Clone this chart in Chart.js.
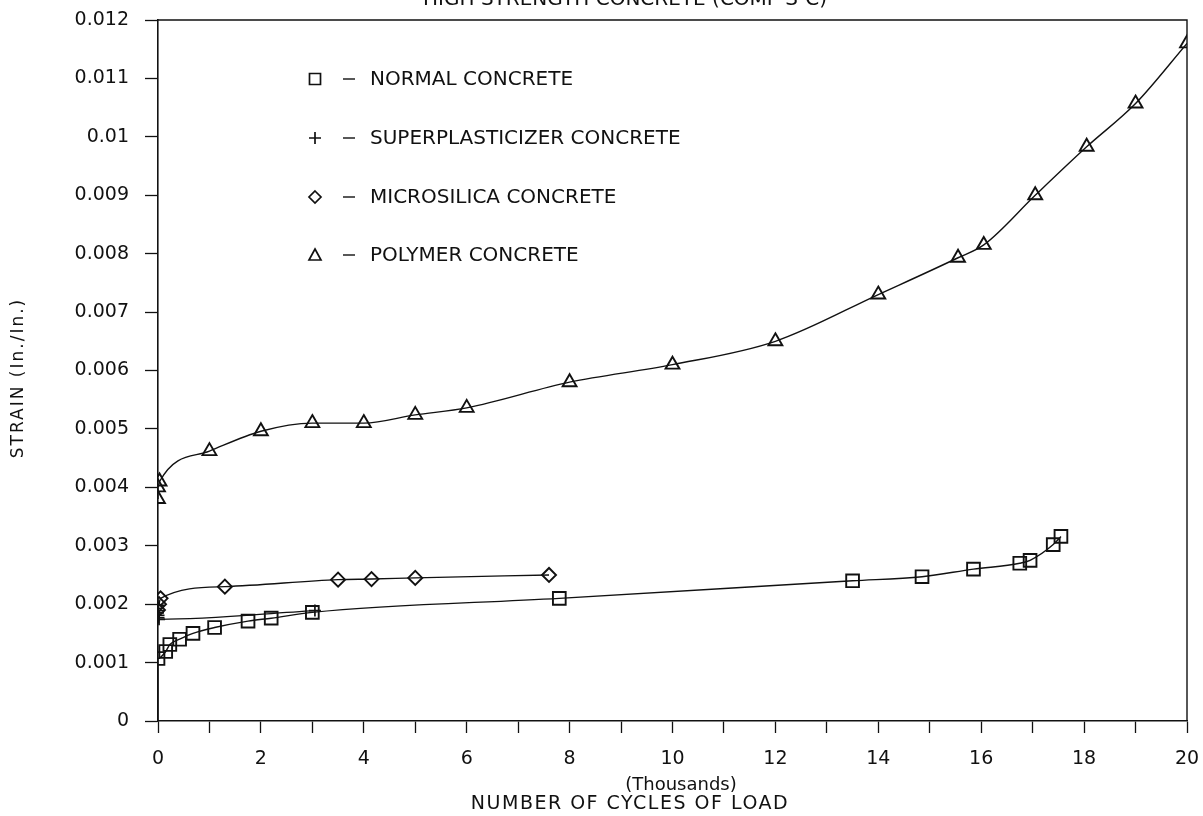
<!DOCTYPE html>
<html>
<head>
<meta charset="utf-8">
<script src="https://cdn.jsdelivr.net/npm/chart.js@4.4.0/dist/chart.umd.min.js"></script>
<style>
  html, body { margin: 0; padding: 0; background: #ffffff; }
  #wrap { width: 1203px; height: 816px; position: relative; }
</style>
</head>
<body>
<div id="wrap"><canvas id="c" width="1203" height="816"></canvas></div>
<script>
// ---- series: cycles of load (thousands) and strain (in./in.) ----
const seriesNames = ['NORMAL CONCRETE', 'SUPERPLASTICIZER CONCRETE', 'MICROSILICA CONCRETE', 'POLYMER CONCRETE'];

const normalCycles = [0, 0, 0.15, 0.23, 0.42, 0.68, 1.1, 1.75, 2.2, 3.0, 7.8, 13.5, 14.85, 15.85, 16.75, 16.95, 17.4, 17.55];
const normalStrain = [0, 0.00107, 0.00119, 0.00131, 0.0014, 0.0015, 0.0016, 0.00171, 0.00176, 0.00186, 0.0021, 0.0024, 0.00247, 0.0026, 0.0027, 0.00275, 0.00302, 0.00316];

const superCycles = [0, 0, 0, 0, 0.01, 0.01, 0.02, 3.05];
const superStrain = [0.00198, 0.00193, 0.00189, 0.00185, 0.00181, 0.00177, 0.00174, 0.00189];

const microCycles = [0, 0.02, 0.05, 1.3, 3.5, 4.15, 5.0, 7.6];
const microStrain = [0.0019, 0.002, 0.0021, 0.0023, 0.00242, 0.00243, 0.00245, 0.0025];

const polymerCycles = [0, 0, 0.03, 1.0, 2.0, 3.0, 4.0, 5.0, 6.0, 8.0, 10.0, 12.0, 14.0, 15.55, 16.05, 17.05, 18.05, 19.0, 20.0];
const polymerStrain = [0.0038, 0.004, 0.0041, 0.00462, 0.00496, 0.0051, 0.0051, 0.00524, 0.00536, 0.0058, 0.0061, 0.0065, 0.0073, 0.00793, 0.00815, 0.009, 0.00983, 0.01057, 0.0116];

// ---- axis ticks ----
const xTickValues = [0, 1, 2, 3, 4, 5, 6, 7, 8, 9, 10, 11, 12, 13, 14, 15, 16, 17, 18, 19, 20];
const xTickLabels = ['0', '', '2', '', '4', '', '6', '', '8', '', '10', '', '12', '', '14', '', '16', '', '18', '', '20'];
const yTickLabels = ['0', '0.001', '0.002', '0.003', '0.004', '0.005', '0.006', '0.007', '0.008', '0.009', '0.01', '0.011', '0.012'];

const chartTitle = 'HIGH STRENGTH CONCRETE (COMP S-C)';
const xUnitsTitle = '(Thousands)';
const xAxisTitle = 'NUMBER OF CYCLES OF LOAD';
const yAxisTitle = 'STRAIN (In./In.)';

const legendSymbols = ['rect', 'cross', 'rectRot', 'triangle'];

const INK = '#111111';
const FACE = "'DejaVu Sans', 'Liberation Sans', sans-serif";

function toPoints(xs, ys) {
  return xs.map((x, i) => ({ x: x, y: ys[i] }));
}

function series(label, xs, ys, style, radius, extra) {
  return Object.assign({
    label: label,
    data: toPoints(xs, ys),
    borderColor: INK,
    borderWidth: 1.4,
    pointStyle: style,
    pointRadius: radius,
    pointBorderColor: INK,
    pointBackgroundColor: 'rgba(0,0,0,0)',
    pointBorderWidth: 1.9,
    cubicInterpolationMode: 'monotone',
    fill: false
  }, extra || {});
}

// the first normal-concrete reading sits at the origin and carries no marker
const normalRadius = normalCycles.map((_, i) => (i === 0 ? 0 : 9));

// symbol shapes used by the in-plot key
function drawSymbol(ctx, style, x, y) {
  ctx.save();
  ctx.strokeStyle = INK;
  ctx.lineWidth = 1.7;
  ctx.beginPath();
  if (style === 'rect') {
    ctx.rect(x - 5.5, y - 5.5, 11, 11);
  } else if (style === 'cross') {
    ctx.moveTo(x - 6, y); ctx.lineTo(x + 6, y);
    ctx.moveTo(x, y - 6); ctx.lineTo(x, y + 6);
  } else if (style === 'rectRot') {
    ctx.moveTo(x, y - 6); ctx.lineTo(x + 6, y); ctx.lineTo(x, y + 6); ctx.lineTo(x - 6, y); ctx.closePath();
  } else {
    ctx.moveTo(x, y - 6); ctx.lineTo(x + 6, y + 5); ctx.lineTo(x - 6, y + 5); ctx.closePath();
  }
  ctx.stroke();
  ctx.restore();
}

// keep tick-label padding from pushing the plot box inward
function noEdgePadding(s) {
  s.paddingTop = 0;
  s.paddingBottom = 0;
  s.paddingLeft = 0;
  s.paddingRight = 0;
}

function spaced(ctx, px) {
  if ('letterSpacing' in ctx) ctx.letterSpacing = px + 'px';
}

const decorations = {
  id: 'decorations',
  afterDraw(chart) {
    const ctx = chart.ctx;
    const a = chart.chartArea;
    ctx.save();

    // frame: top and right edges of the plot box
    ctx.strokeStyle = INK;
    ctx.lineWidth = 1.4;
    ctx.beginPath();
    ctx.moveTo(a.left, a.top);
    ctx.lineTo(a.right, a.top);
    ctx.lineTo(a.right, a.bottom);
    ctx.stroke();

    ctx.fillStyle = INK;

    // heading, clipped by the top edge of the page
    ctx.font = '20px ' + FACE;
    ctx.textAlign = 'center';
    ctx.textBaseline = 'alphabetic';
    ctx.fillText(chartTitle, 625, 5);

    // x-axis titles
    ctx.textBaseline = 'middle';
    ctx.font = '18px ' + FACE;
    ctx.fillText(xUnitsTitle, 681, 785);
    ctx.save();
    ctx.font = '19px ' + FACE;
    spaced(ctx, 1.5);
    ctx.fillText(xAxisTitle, 630, 804);
    ctx.restore();

    // y-axis title
    ctx.save();
    ctx.translate(19, 378);
    ctx.rotate(-Math.PI / 2);
    ctx.font = '17px ' + FACE;
    spaced(ctx, 2);
    ctx.textAlign = 'center';
    ctx.textBaseline = 'middle';
    ctx.fillText(yAxisTitle, 0, 0);
    ctx.restore();

    // key inside the plot
    const rows = [79, 138, 197, 255];
    ctx.font = '20px ' + FACE;
    ctx.textAlign = 'left';
    ctx.textBaseline = 'middle';
    seriesNames.forEach((name, i) => {
      const y = rows[i];
      drawSymbol(ctx, legendSymbols[i], 315, y);
      ctx.beginPath();
      ctx.lineWidth = 1.4;
      ctx.moveTo(343, y);
      ctx.lineTo(355, y);
      ctx.stroke();
      ctx.fillText(name, 370, y + 1);
    });

    ctx.restore();
  }
};

new Chart(document.getElementById('c'), {
  type: 'line',
  data: {
    datasets: [
      series(seriesNames[0], normalCycles, normalStrain, 'rect', normalRadius),
      series(seriesNames[1], superCycles, superStrain, 'cross', 6, { pointBorderWidth: 1.7 }),
      series(seriesNames[2], microCycles, microStrain, 'rectRot', 7),
      series(seriesNames[3], polymerCycles, polymerStrain, 'triangle', 8)
    ]
  },
  options: {
    responsive: false,
    animation: false,
    devicePixelRatio: 1,
    layout: { padding: { top: 20, right: 16, left: 0, bottom: 0 } },
    plugins: {
      legend: { display: false },
      tooltip: { enabled: false },
      title: { display: false }
    },
    scales: {
      x: {
        type: 'linear',
        min: 0,
        max: 20,
        afterBuildTicks: (s) => { s.ticks = xTickValues.map(v => ({ value: v })); },
        afterFit: (s) => { s.height = 95; noEdgePadding(s); },
        ticks: {
          autoSkip: false,
          maxRotation: 0,
          padding: 15,
          color: INK,
          font: { family: FACE, size: 19 },
          callback: (v, i) => xTickLabels[i]
        },
        grid: { drawOnChartArea: false, drawTicks: true, tickLength: 12, tickColor: INK, tickWidth: 1.3 },
        border: { color: INK, width: 1.6 }
      },
      y: {
        type: 'linear',
        min: 0,
        max: 0.012,
        afterBuildTicks: (s) => { s.ticks = yTickLabels.map(t => ({ value: Number(t) })); },
        afterFit: (s) => { s.width = 158; noEdgePadding(s); },
        ticks: {
          padding: 16,
          color: INK,
          font: { family: FACE, size: 19 },
          callback: (v, i) => yTickLabels[i]
        },
        grid: { drawOnChartArea: false, drawTicks: true, tickLength: 13, tickColor: INK, tickWidth: 1.3 },
        border: { color: INK, width: 1.6 }
      }
    }
  },
  plugins: [decorations]
});
</script>
</body>
</html>
